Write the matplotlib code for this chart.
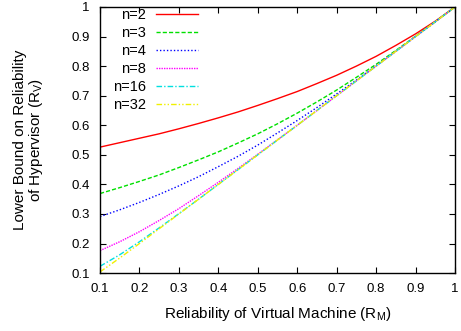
import matplotlib
matplotlib.use("Agg")
import matplotlib.pyplot as plt

plt.rcParams['font.family'] = ['Liberation Sans', 'DejaVu Sans']
plt.rcParams['mathtext.default'] = 'regular'

# reliability of virtual machine (x axis)
rm = [0.1, 0.15, 0.2, 0.25, 0.3, 0.35, 0.4, 0.45, 0.5, 0.55,
      0.6, 0.65, 0.7, 0.75, 0.8, 0.85, 0.9, 0.95, 1.0]

# lower bound on hypervisor reliability
rv_n2 = [0.526, 0.541, 0.556, 0.571, 0.588, 0.606, 0.625, 0.645, 0.667, 0.690,
         0.714, 0.741, 0.769, 0.800, 0.833, 0.870, 0.909, 0.952, 1.0]
rv_n3 = [0.369, 0.389, 0.410, 0.432, 0.457, 0.483, 0.510, 0.540, 0.571, 0.605,
         0.641, 0.679, 0.719, 0.762, 0.806, 0.853, 0.901, 0.950, 1.0]
rv_n4 = [0.291, 0.314, 0.339, 0.366, 0.395, 0.426, 0.460, 0.495, 0.533, 0.574,
         0.616, 0.660, 0.706, 0.753, 0.801, 0.850, 0.900, 0.950, 1.0]
rv_n8 = [0.176, 0.206, 0.240, 0.278, 0.318, 0.362, 0.407, 0.454, 0.502, 0.551,
         0.600, 0.650, 0.700, 0.750, 0.800, 0.850, 0.900, 0.950, 1.0]
rv_n16 = [0.123, 0.162, 0.206, 0.253, 0.301, 0.350, 0.400, 0.450, 0.500, 0.550,
          0.600, 0.650, 0.700, 0.750, 0.800, 0.850, 0.900, 0.950, 1.0]
rv_n32 = [0.104, 0.151, 0.200, 0.250, 0.300, 0.350, 0.400, 0.450, 0.500, 0.550,
          0.600, 0.650, 0.700, 0.750, 0.800, 0.850, 0.900, 0.950, 1.0]

labels = ["n=2", "n=3", "n=4", "n=8", "n=16", "n=32"]
ticks = [0.1, 0.2, 0.3, 0.4, 0.5, 0.6, 0.7, 0.8, 0.9, 1.0]
tick_labels = ["0.1", "0.2", "0.3", "0.4", "0.5", "0.6", "0.7", "0.8", "0.9", "1"]

series = [rv_n2, rv_n3, rv_n4, rv_n8, rv_n16, rv_n32]
colors = ["#ff0000", "#00e000", "#0000ff", "#ff00ff", "#00e0e0", "#f0f000"]
styles = ["-", (0, (3, 1.5)), (0, (1, 1.5)), (0, (1, 0.8)),
          (0, (4, 1.5, 1, 1.5)), (0, (4, 1.5, 1, 1.5, 1, 1.5))]

fig = plt.figure(figsize=(4.61, 3.31), dpi=100)
ax = fig.add_axes([0.217, 0.175, 0.770, 0.804])

for y, lab, c, ls in zip(series, labels, colors, styles):
    ax.plot(rm, y, color=c, linestyle=ls, linewidth=1.0, label=lab)

ax.set_xlim(0.1, 1)
ax.set_ylim(0.1, 1)
ax.set_xticks(ticks)
ax.set_xticklabels(tick_labels)
ax.set_yticks(ticks)
ax.set_yticklabels(tick_labels)
ax.tick_params(direction="in", top=True, right=True, length=4, width=0.8,
               labelsize=9.5, pad=7.5)
for s in ax.spines.values():
    s.set_linewidth(1.0)

ax.set_xlabel("Reliability of Virtual Machine (R$_M$)", fontsize=11, labelpad=7)
ax.set_ylabel("Lower Bound on Reliability\nof Hypervisor (R$_V$)", fontsize=11,
              labelpad=19, linespacing=0.95)

ax.legend(loc="upper left", frameon=False, markerfirst=False, fontsize=10.5,
          handlelength=2.9, handletextpad=0.7, labelspacing=0.27,
          borderaxespad=0, borderpad=0, bbox_to_anchor=(0.036, 0.995))

fig.savefig("out.png", dpi=100)
